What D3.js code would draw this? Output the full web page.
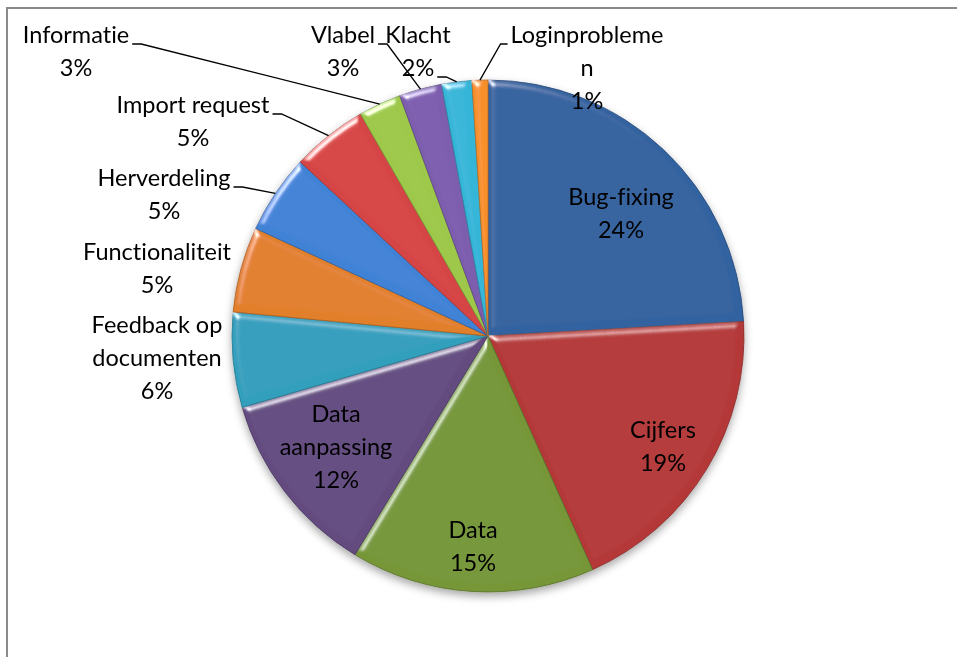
<!DOCTYPE html>
<html>
<head>
<meta charset="utf-8">
<script src="https://cdn.jsdelivr.net/npm/d3@7"></script>
<style>
  body { margin: 0; background: #fff; }
  svg { display: block; }
  .slice-label { font-family: Lato, "Open Sans", sans-serif; font-size: 23.5px; fill: #000;
                 font-variant-ligatures: none; }
</style>
</head>
<body>
<div id="chart"></div>
<script>
// chart data
var categories = ['Bug-fixing', 'Cijfers', 'Data', 'Data aanpassing', 'Feedback op documenten',
                  'Functionaliteit', 'Herverdeling', 'Import request', 'Informatie', 'Vlabel',
                  'Klacht', 'Loginproblemen'];
var values     = [24.1, 19.2, 15.4, 11.8, 6.0, 5.4, 5.0, 4.8, 2.7, 2.7, 1.9, 1.0];

// how Excel wrapped the category names
var label_lines = [['Bug-fixing'], ['Cijfers'], ['Data'], ['Data', 'aanpassing'], ['Feedback op', 'documenten'],
                   ['Functionaliteit'], ['Herverdeling'], ['Import request'], ['Informatie'], ['Vlabel'],
                   ['Klacht'], ['Loginprobleme', 'n']];

var colors = ['#32629f', '#b43937', '#769639', '#634b80', '#319fbd', '#e17f2a',
              '#3f82d6', '#d64545', '#9dc84a', '#7d5dae', '#36b5d8', '#f7902c'];

// label placement: centre of first line, plus where the leader line leaves the text
var label_layout = [
    {x: 621, y: 197},
    {x: 663, y: 430},
    {x: 473, y: 530},
    {x: 336, y: 414},
    {x: 157, y: 325},
    {x: 157, y: 252},
    {x: 164, y: 178, leader: {line: 0, side: 'right'}},
    {x: 193, y: 105, leader: {line: 0, side: 'right'}},
    {x: 76,  y: 35,  leader: {line: 0, side: 'right'}},
    {x: 343, y: 35,  leader: {line: 0, side: 'right'}},
    {x: 418, y: 35,  leader: {line: 1, side: 'right'}},
    {x: 587, y: 35,  leader: {line: 0, side: 'left'}}
];

var width  = 957;
var height = 657;
var cx = 488, cy = 336, radius = 256;
var line_height = 33;

var fmt_pct = function(v) { return Math.round(v) + '%'; };

var svg = d3.select('#chart')
    .append('svg')
    .attr('width', width)
    .attr('height', height);

var defs = svg.append('defs');

// soft shadow under the pie
var shadow = defs.append('filter')
    .attr('id', 'pie-shadow')
    .attr('x', '-10%').attr('y', '-10%')
    .attr('width', '120%').attr('height', '125%');
shadow.append('feDropShadow')
    .attr('dx', 0).attr('dy', 4)
    .attr('stdDeviation', 4)
    .attr('flood-color', '#000')
    .attr('flood-opacity', 0.35);

// bevel look of the Excel 2007 pie: highlights only on the edges
var bevel = defs.append('filter')
    .attr('id', 'bevel')
    .attr('x', '-5%').attr('y', '-5%')
    .attr('width', '110%').attr('height', '110%');
bevel.append('feGaussianBlur')
    .attr('in', 'SourceAlpha').attr('stdDeviation', 3.5).attr('result', 'blur');
var spec = bevel.append('feSpecularLighting')
    .attr('in', 'blur').attr('surfaceScale', 5)
    .attr('specularConstant', 0.85).attr('specularExponent', 28)
    .attr('lighting-color', '#ffffff').attr('result', 'spec');
spec.append('feDistantLight').attr('azimuth', 235).attr('elevation', 25);
bevel.append('feComposite')
    .attr('in', 'spec').attr('in2', 'SourceAlpha')
    .attr('operator', 'in').attr('result', 'spec_in');
bevel.append('feComposite')
    .attr('in', 'SourceGraphic').attr('in2', 'spec_in')
    .attr('operator', 'arithmetic')
    .attr('k1', 0).attr('k2', 1).attr('k3', 1).attr('k4', 0);

// chart area frame (cut off at right and bottom in the original)
svg.append('path')
    .attr('d', 'M7,' + height + 'V8H' + width)
    .attr('fill', 'none')
    .attr('stroke', '#8a8a8a')
    .attr('stroke-width', 2);

var pie = d3.pie().sort(null).value(function(d) { return d; });
var arcs = pie(values);

var arc = d3.arc().innerRadius(0).outerRadius(radius);

var pie_group = svg.append('g')
    .attr('transform', 'translate(' + cx + ',' + cy + ')')
    .attr('filter', 'url(#pie-shadow)');

pie_group.selectAll('path')
    .data(arcs)
    .enter()
    .append('path')
    .attr('d', arc)
    .attr('fill', function(d, i) { return colors[i]; })
    .attr('stroke', function(d, i) { return d3.color(colors[i]).darker(0.8); })
    .attr('stroke-width', 0.8)
    .attr('stroke-linejoin', 'round')
    .attr('filter', 'url(#bevel)');

// labels
var label_group = svg.append('g');

arcs.forEach(function(d, i) {
    var pos   = label_layout[i];
    var lines = label_lines[i].concat([fmt_pct(values[i])]);

    var text = label_group.append('text')
        .attr('class', 'slice-label')
        .attr('text-anchor', 'middle');

    var tspans = [];
    lines.forEach(function(line, j) {
        var t = text.append('tspan')
            .attr('x', pos.x)
            .attr('y', pos.y + j * line_height)
            .attr('dy', '0.35em')
            .text(line);
        tspans.push(t);
    });

    if (!pos.leader) return;

    // leader line from the text to the outer edge of the slice
    var line_w = tspans[pos.leader.line].node().getComputedTextLength();
    var ly = pos.y + pos.leader.line * line_height + 9;
    var sx, hx;
    if (pos.leader.side == 'right') {
        sx = pos.x + line_w / 2 + 3;
        hx = sx + 9;
    } else {
        sx = pos.x - line_w / 2 - 3;
        hx = sx - 7;
    }
    var mid = (d.startAngle + d.endAngle) / 2;
    var ex = cx + radius * Math.sin(mid);
    var ey = cy - radius * Math.cos(mid);

    label_group.append('path')
        .attr('d', 'M' + sx + ',' + ly + 'H' + hx + 'L' + ex + ',' + ey)
        .attr('fill', 'none')
        .attr('stroke', '#000')
        .attr('stroke-width', 1.3);
});
</script>
</body>
</html>
